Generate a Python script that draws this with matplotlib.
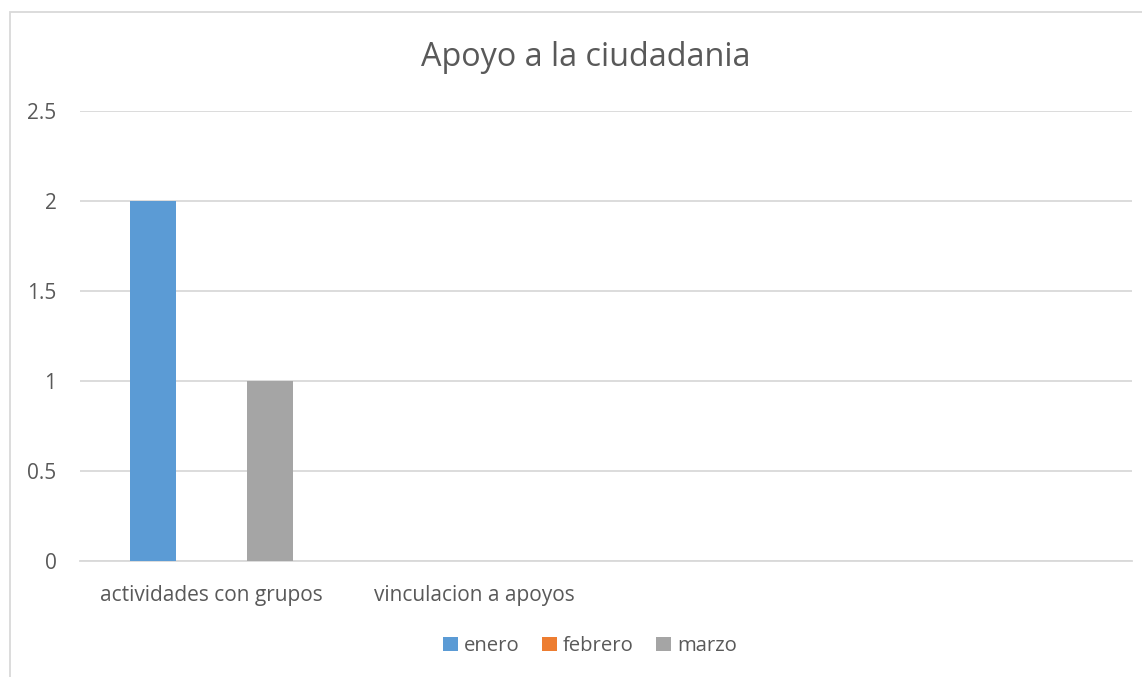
import numpy as np
import matplotlib
matplotlib.use("Agg")
import matplotlib.pyplot as plt
from matplotlib.patches import Rectangle, Patch

plt.rcParams['font.family'] = ['Open Sans', 'DejaVu Sans']

categorias = ["actividades con grupos", "vinculacion a apoyos", "", ""]
series = ["enero", "febrero", "marzo"]
enero = [2, 0, 0, 0]
febrero = [0, 0, 0, 0]
marzo = [1, 0, 0, 0]
colores = ["#5B9BD5", "#ED7D31", "#A5A5A5"]
yticks = [0, 0.5, 1, 1.5, 2, 2.5]

texto = "#595959"
rejilla = "#D9D9D9"

fig = plt.figure(figsize=(11.42, 6.77), dpi=100)
ax = fig.add_axes([80 / 1142, 1 - 561 / 677, 1052 / 1142, 450 / 677])

# borde del area del grafico
fig.patches.append(Rectangle((10 / 1142, -0.05), 1.2, 1 - 12 / 677 + 0.05,
                             transform=fig.transFigure, fill=False,
                             edgecolor=rejilla, linewidth=1.3, clip_on=False))

x = np.arange(len(categorias))
ancho = 0.175
paso = 0.222
for i, (vals, col) in enumerate(zip([enero, febrero, marzo], colores)):
    ax.bar(x + (i - 1) * paso, vals, width=ancho, color=col, zorder=3, label=series[i])

ax.set_xlim(-0.5, len(categorias) - 0.5)
ax.set_ylim(0, 2.5)
ax.set_yticks(yticks)
ax.set_yticklabels(["0", "0.5", "1", "1.5", "2", "2.5"])
ax.set_xticks(x)
ax.set_xticklabels(categorias)
ax.grid(axis="y", color=rejilla, linewidth=1.3, zorder=0)
for s in ["top", "right", "left"]:
    ax.spines[s].set_visible(False)
ax.spines["bottom"].set_color(rejilla)
ax.spines["bottom"].set_linewidth(1.3)
ax.tick_params(axis="both", length=0, colors=texto, labelsize=15)
ax.tick_params(axis="y", pad=17)
ax.tick_params(axis="x", pad=17)

fig.text(586 / 1142, 1 - 57 / 677, "Apoyo a la ciudadania", ha="center", va="center",
         fontsize=23.3, color=texto)

handles = [Patch(facecolor=c, edgecolor="none") for c in colores]
fig.legend(handles, series, loc="center", bbox_to_anchor=(590 / 1142, 1 - 646 / 677),
           ncol=3, frameon=False, fontsize=14.6, labelcolor=texto,
           handlelength=0.75, handleheight=0.75, handletextpad=0.3, columnspacing=1.1)

fig.savefig("out.png", dpi=100, facecolor="white")
